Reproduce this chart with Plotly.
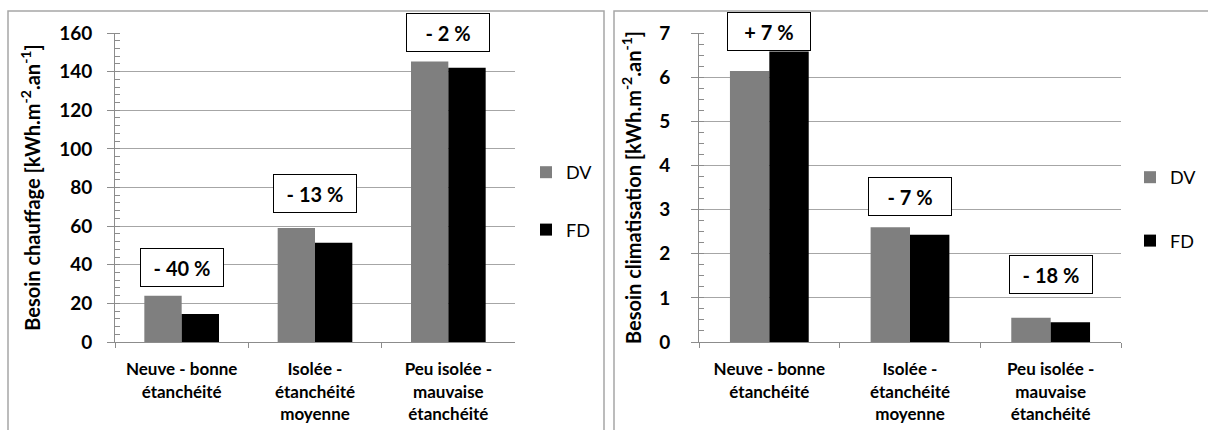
import plotly.graph_objects as go

# Building types (x categories) and their wrapped tick labels
categories = [
    "Neuve - bonne étanchéité",
    "Isolée - étanchéité moyenne",
    "Peu isolée - mauvaise étanchéité",
]
tick_labels = [
    "Neuve - bonne<br>étanchéité",
    "Isolée -<br>étanchéité<br>moyenne",
    "Peu isolée -<br>mauvaise<br>étanchéité",
]
series_names = ["DV", "FD"]

# Heating need [kWh.m-2.an-1]
chauffage_dv = [24.0, 59.0, 145.2]
chauffage_fd = [14.5, 51.4, 142.0]

# Cooling need [kWh.m-2.an-1]
clim_dv = [6.14, 2.60, 0.55]
clim_fd = [6.58, 2.43, 0.45]

# Height (in axis units) of each variation box
chauffage_box_y = [38.8, 77.0, 160.5]
clim_box_y = [7.03, 3.30, 1.52]

CHAUFFAGE_MAX = 160
CLIM_MAX = 7

W, H = 1208, 430
FONT = "Lato, 'Open Sans', sans-serif"
GREY_BAR = "#7f7f7f"
GRID = "#a6a6a6"
AXIS = "#8c8c8c"


def px_x(v):
    return v / W


def px_y(v):
    return 1 - v / H


def variation(dv, fd):
    v = round((fd - dv) / dv * 100)
    sign = "+" if v > 0 else "-"
    return f"{sign} {abs(v)} %"


fig = go.Figure()

colors = [GREY_BAR, "#000000"]
for name, vals, col in zip(series_names, [chauffage_dv, chauffage_fd], colors):
    fig.add_trace(go.Bar(
        x=categories, y=vals, name=name, marker=dict(color=col, line=dict(width=0)),
        xaxis="x", yaxis="y", legend="legend", legendgroup="l" + name,
    ))
for name, vals, col in zip(series_names, [clim_dv, clim_fd], colors):
    fig.add_trace(go.Bar(
        x=categories, y=vals, name=name, marker=dict(color=col, line=dict(width=0)),
        xaxis="x2", yaxis="y2", legend="legend2", legendgroup="r" + name,
    ))

# Variation boxes; vertical position given as a fraction of the axis height
# so that boxes sitting above the top of the range stay visible.
annotations = []
for xa, ya, dv, fd, ys, ymax in [("x", "y domain", chauffage_dv, chauffage_fd, chauffage_box_y, CHAUFFAGE_MAX),
                                 ("x2", "y2 domain", clim_dv, clim_fd, clim_box_y, CLIM_MAX)]:
    for c, a, b, yy in zip(categories, dv, fd, ys):
        annotations.append(dict(
            x=c, y=yy / ymax, xref=xa, yref=ya, xanchor="center", yanchor="middle",
            text=variation(a, b), showarrow=False,
            bgcolor="white", bordercolor="#000000", borderwidth=1, borderpad=0,
            width=82, height=37, font=dict(family=FONT, size=20, weight=700, color="#000000"),
        ))

# Panel frames
shapes = [
    dict(type="rect", xref="paper", yref="paper", x0=px_x(8), x1=px_x(604),
         y0=px_y(445), y1=px_y(11), line=dict(color="#a6a6a6", width=1.5)),
    dict(type="rect", xref="paper", yref="paper", x0=px_x(614), x1=px_x(1220),
         y0=px_y(445), y1=px_y(11), line=dict(color="#a6a6a6", width=1.5)),
]

xaxis_common = dict(
    type="category", tickvals=categories, ticktext=tick_labels,
    tickson="boundaries", ticks="outside", ticklen=5, tickcolor=AXIS,
    showline=True, linecolor=AXIS, linewidth=1, showgrid=False,
    tickfont=dict(family=FONT, size=17, weight=700, color="#000000"),
    ticklabelstandoff=12, fixedrange=True, automargin=False,
)
yaxis_common = dict(
    showline=True, linecolor=AXIS, linewidth=1,
    showgrid=True, gridcolor=GRID, gridwidth=1, zeroline=False,
    ticks="outside", ticklen=7, tickcolor=AXIS, automargin=False,
    tickfont=dict(family=FONT, size=19, weight=700, color="#000000"),
)

fig.update_layout(
    width=W, height=H,
    margin=dict(l=0, r=0, t=0, b=0),
    paper_bgcolor="white", plot_bgcolor="white",
    barmode="group", bargap=0.44, bargroupgap=0,
    font=dict(family=FONT, color="#000000"),
    xaxis=dict(domain=[px_x(115), px_x(515)], anchor="y", **xaxis_common),
    yaxis=dict(domain=[px_y(342), px_y(33)], anchor="x", range=[0, CHAUFFAGE_MAX], dtick=20,
               ticklabelstandoff=11,
               minor=dict(dtick=4, ticks="inside", ticklen=5, tickcolor=AXIS, showgrid=False),
               title=dict(text="Besoin chauffage [kWh.m<sup>-2</sup>.an<sup>-1</sup>]",
                          font=dict(family=FONT, size=20, weight=700), standoff=13),
               **yaxis_common),
    xaxis2=dict(domain=[px_x(699), px_x(1121)], anchor="y2", **xaxis_common),
    yaxis2=dict(domain=[px_y(342), px_y(33)], anchor="x2", range=[0, CLIM_MAX], dtick=1,
                ticklabelstandoff=17,
                minor=dict(dtick=0.25, ticks="inside", ticklen=5, tickcolor=AXIS, showgrid=False),
                title=dict(text="Besoin climatisation [kWh.m<sup>-2</sup>.an<sup>-1</sup>]",
                           font=dict(family=FONT, size=20, weight=700), standoff=12),
                **yaxis_common),
    legend=dict(x=px_x(526), y=px_y(154), xanchor="left", yanchor="top",
                tracegroupgap=31, font=dict(family=FONT, size=18),
                bgcolor="rgba(0,0,0,0)"),
    legend2=dict(x=px_x(1130), y=px_y(159), xanchor="left", yanchor="top",
                 tracegroupgap=37, font=dict(family=FONT, size=18),
                 bgcolor="rgba(0,0,0,0)"),
    annotations=annotations,
    shapes=shapes,
)

fig.write_html("out.html")
